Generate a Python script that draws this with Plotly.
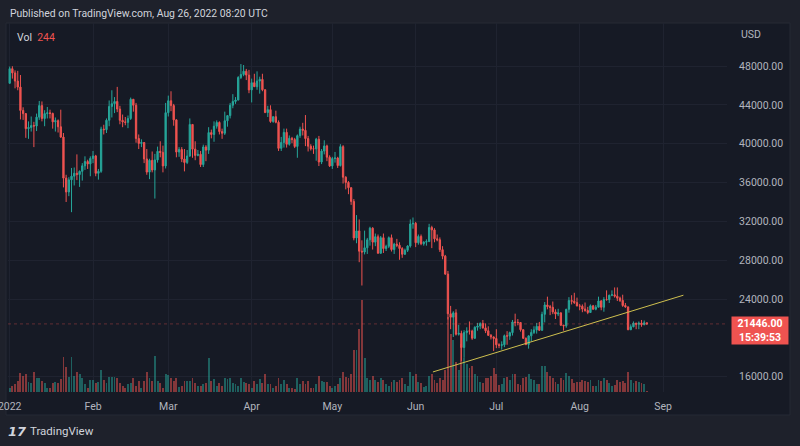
import pandas as pd
import plotly.graph_objects as go

# ---------------- data ----------------
dates = pd.date_range("2022-01-01", "2022-08-26", freq="D")

open_ = [
    # Jan
    46217, 47722, 47286, 46446, 45832, 43425, 43097, 41547, 41672, 41865, 41822, 42735, 43920, 42591, 43099, 43177,
    43113, 42250, 42375, 41744, 40680, 36457, 35030, 36276, 36654, 36954, 36822, 37154, 37718, 38166, 37917,
    # Feb
    38483, 38743, 36952, 37154, 41500, 41441, 42412, 43840, 44118, 44347, 43565, 42407, 42244, 42197, 42586, 44575,
    43961, 40538, 40030, 40122, 38431, 37075, 38286, 37296, 38332, 39214, 39105, 37710,
    # Mar
    43194, 44421, 43924, 42454, 39138, 39400, 38420, 38062, 38737, 41982, 39437, 38794, 38905, 37850, 39666, 39338,
    41143, 40951, 41801, 42190, 41247, 41077, 42358, 42893, 43960, 44348, 44500, 46820, 47128, 47465, 47062,
    # Apr
    45538, 46281, 45868, 46453, 46622, 45555, 43207, 43503, 42287, 42782, 42207, 39521, 40127, 41166, 39936, 40552,
    40424, 39716, 40827, 41502, 41374, 40527, 39740, 39478, 39469, 40458, 38117, 39241, 39773, 38609,
    # May
    37714, 38469, 38529, 37750, 39698, 36552, 36013, 35472, 34059, 30296, 31022, 28936, 28850, 29283, 30101, 31305,
    29863, 30425, 28715, 30319, 29201, 29432, 30323, 29098, 29655, 29542, 29202, 28620, 29027, 29468, 31734,
    # Jun
    31801, 29805, 30452, 29700, 29865, 29920, 31373, 31125, 30206, 30110, 29087, 28424, 26575, 22488, 22136, 22583,
    20382, 20471, 19017, 20553, 20720, 20712, 19970, 21100, 21231, 21496, 21036, 20737, 20274, 20104,
    # Jul
    19942, 19297, 19243, 19297, 20232, 20188, 20548, 21637, 21600, 21588, 20850, 19965, 19330, 20215, 20570, 20830,
    21195, 20785, 22430, 23396, 23225, 23150, 22680, 22460, 22580, 21310, 21250, 22950, 23850, 23775, 23640,
    # Aug
    23300, 23270, 22980, 22820, 22620, 23310, 22960, 23170, 23810, 23160, 23950, 23940, 24400, 24440, 24300, 24100,
    23860, 23340, 23200, 20850, 21150, 21530, 21400, 21530, 21370, 21560,
]
high = [
    47944, 47975, 47550, 47500, 47070, 43750, 43140, 42300, 42800, 42250, 43100, 44400, 44350, 43450, 43780, 43500,
    43200, 42700, 42500, 43500, 41100, 36800, 36550, 37500, 37550, 38900, 37250, 38000, 38700, 38350, 38700,
    39250, 38850, 37400, 41750, 41950, 42600, 44450, 45500, 44800, 45850, 43900, 43000, 42750, 42900, 44750, 44600,
    44200, 40950, 40450, 40150, 39450, 38450, 39200, 38950, 39700, 40250, 39800, 44200,
    44950, 45400, 44100, 42500, 39650, 39650, 39450, 39350, 42600, 42000, 40250, 39350, 39250, 39900, 39850, 41700,
    41450, 42300, 42400, 42300, 41550, 43300, 42900, 44200, 45100, 44800, 46950, 48200, 48100, 47700, 47600,
    46700, 47200, 47450, 46900, 47200, 45600, 43900, 43950, 42800, 43400, 42400, 40700, 41550, 41550, 40850, 40700,
    40600, 40950, 41750, 42150, 42950, 40800, 39950, 39800, 40600, 40800, 39450, 40350, 39900, 38800,
    38650, 39150, 38650, 39950, 39850, 36650, 36150, 35500, 34300, 32650, 32200, 30050, 31050, 30300, 31450, 31400,
    30750, 30650, 30500, 30750, 29600, 30450, 30650, 29800, 30200, 29850, 29350, 29200, 29550, 32200, 32400,
    31950, 30650, 30650, 29950, 30150, 31750, 31550, 31300, 30650, 30350, 29450, 28550, 26900, 23300, 22750, 22950,
    21350, 20750, 20800, 21100, 21700, 20850, 21200, 21550, 21600, 21850, 21500, 21200, 20400, 20150,
    20900, 19450, 19650, 20350, 20700, 20650, 21850, 22500, 21950, 21600, 20880, 20050, 20250, 20900, 21200, 21550,
    21650, 22700, 23700, 24250, 23400, 23750, 22950, 23000, 22650, 21350, 23000, 24200, 24400, 24650, 24150,
    23500, 23450, 23650, 23200, 23450, 23400, 23400, 24250, 23900, 24200, 24900, 24450, 24900, 25200, 25200, 24250,
    24450, 23600, 23200, 21400, 21700, 21550, 21700, 21850, 21800, 21600,
]
low = [
    46207, 46700, 45700, 45500, 42500, 42450, 40600, 40500, 41250, 39650, 41300, 42450, 42300, 41800, 42600, 42600,
    41550, 41250, 41150, 40600, 35500, 34000, 34600, 32950, 35700, 36250, 35550, 36200, 37300, 37400, 36650,
    38000, 36650, 36300, 37000, 40950, 41100, 41800, 42700, 43150, 43250, 42000, 41700, 41900, 41600, 42450, 43300,
    40100, 39450, 39650, 38000, 36800, 36350, 37050, 34350, 38050, 38600, 37050, 37450,
    42800, 43350, 41850, 38600, 38650, 38100, 37150, 37900, 38650, 38550, 38300, 38700, 37600, 37600, 38200, 38950,
    40550, 40200, 41550, 40950, 40500, 40900, 41750, 42600, 43650, 44100, 44450, 46650, 46950, 46550, 45200,
    44250, 45850, 45550, 45150, 45400, 43150, 42750, 42150, 42150, 42100, 39250, 39250, 39600, 39600, 39800, 40050,
    39550, 38550, 40600, 40850, 39750, 39200, 39300, 38950, 38250, 37700, 37900, 38900, 38200, 37600,
    37400, 38050, 37500, 37650, 35900, 35300, 34800, 33700, 30050, 29750, 27800, 25400, 28600, 28650, 29500, 29100,
    29450, 28700, 28700, 28750, 28950, 29250, 28900, 28650, 29350, 28050, 28250, 28550, 28850, 29300, 31250,
    29350, 29600, 29550, 29500, 29500, 29900, 29250, 29850, 29950, 28850, 28100, 26500, 21900, 20900, 20100, 20250,
    20250, 17620, 17950, 19650, 20350, 19800, 19900, 20750, 20900, 20950, 20500, 20200, 19850, 18650,
    18950, 18950, 18800, 19050, 19300, 19800, 20250, 21200, 21300, 20650, 19900, 19250, 18900, 19650, 20400, 20450,
    20750, 20750, 21600, 22950, 22350, 22450, 21950, 22250, 21250, 20750, 21050, 22600, 23450, 23500, 23250,
    22850, 22650, 22700, 22450, 22600, 22900, 22850, 23150, 22850, 22700, 23850, 23600, 24300, 24150, 23800, 23700,
    23200, 23100, 20800, 20800, 21100, 20900, 20900, 21150, 21300, 21350,
]
close = [
    47722, 47286, 46446, 45832, 43425, 43097, 41547, 41672, 41865, 41822, 42735, 43920, 42591, 43099, 43177, 43113,
    42250, 42375, 41744, 40680, 36457, 35030, 36276, 36654, 36954, 36822, 37154, 37718, 38166, 37917, 38483,
    38743, 36952, 37154, 41500, 41441, 42412, 43840, 44118, 44347, 43565, 42407, 42244, 42197, 42586, 44575, 43961,
    40538, 40030, 40122, 38431, 37075, 38286, 37296, 38332, 39214, 39105, 37710, 43194,
    44421, 43924, 42454, 39138, 39400, 38420, 38062, 38737, 41982, 39437, 38794, 38905, 37850, 39666, 39338, 41143,
    40951, 41801, 42190, 41247, 41077, 42358, 42893, 43960, 44348, 44500, 46820, 47128, 47465, 47062, 45538,
    46281, 45868, 46453, 46622, 45555, 43207, 43503, 42287, 42782, 42207, 39521, 40127, 41166, 39936, 40552, 40424,
    39716, 40827, 41502, 41374, 40527, 39740, 39478, 39469, 40458, 38117, 39241, 39773, 38609, 37714,
    38469, 38529, 37750, 39698, 36552, 36013, 35472, 34059, 30296, 31022, 28936, 28850, 29283, 30101, 31305, 29863,
    30425, 28715, 30319, 29201, 29432, 30323, 29098, 29655, 29542, 29202, 28620, 29027, 29468, 31734, 31801,
    29805, 30452, 29700, 29865, 29920, 31373, 31125, 30206, 30110, 29087, 28424, 26575, 22488, 22136, 22583, 20382,
    20471, 19017, 20553, 20720, 20712, 19970, 21100, 21231, 21496, 21036, 20737, 20274, 20104, 19942,
    19297, 19243, 19297, 20232, 20188, 20548, 21637, 21600, 21588, 20850, 19965, 19330, 20215, 20570, 20830, 21195,
    20785, 22430, 23396, 23225, 23150, 22680, 22460, 22580, 21310, 21250, 22950, 23850, 23775, 23640, 23300,
    23270, 22980, 22820, 22620, 23310, 22960, 23170, 23810, 23160, 23950, 23940, 24400, 24440, 24300, 24100, 23860,
    23340, 23200, 20850, 21150, 21530, 21400, 21530, 21370, 21560, 21446,
]
# volume, thousand BTC
volume = [
    1.0, 1.5, 2.0, 2.8, 4.8, 4.0, 4.5, 2.5, 2.3, 5.0, 3.5, 3.5, 2.8, 2.3, 1.0, 1.0, 2.3, 2.5, 2.3, 3.3, 8.8, 6.3,
    3.8, 8.8, 4.0, 5.0, 4.5, 3.5, 2.0, 1.0, 3.0,
    3.0, 2.3, 2.5, 5.5, 3.0, 2.3, 3.8, 3.8, 3.8, 3.5, 2.3, 1.5, 1.0, 2.0, 2.3, 3.5, 1.5, 2.8, 1.0, 2.8, 5.0, 3.5,
    2.8, 9.0, 2.8, 2.3, 1.0, 4.5,
    4.3, 3.5, 2.8, 3.5, 1.3, 1.5, 2.8, 2.8, 2.8, 3.5, 2.3, 1.5, 1.5, 2.0, 2.3, 8.5, 2.8, 3.3, 1.5, 2.3, 1.5, 3.5,
    3.3, 3.5, 2.3, 2.0, 1.5, 3.5, 2.5, 2.3, 2.0,
    1.0, 2.8, 2.0, 3.3, 2.3, 4.5, 2.0, 2.0, 1.0, 1.5, 3.5, 2.0, 3.0, 2.0, 1.0, 1.0, 0.8, 3.5, 2.0, 2.8, 2.0, 2.8,
    1.0, 1.0, 2.0, 4.0, 2.8, 2.5, 2.5, 1.5,
    1.0, 1.5, 2.0, 3.5, 5.0, 3.8, 3.5, 4.5, 10.5, 10.5, 15.8, 23.0, 8.5, 3.5, 3.0, 4.0, 3.0, 2.5, 3.5, 3.0, 2.0,
    1.5, 2.5, 3.0, 2.5, 3.0, 3.5, 2.0, 1.5, 5.0, 4.0,
    4.5, 2.5, 2.3, 1.3, 1.5, 4.0, 4.5, 3.0, 2.3, 3.5, 3.0, 5.5, 18.8, 14.5, 13.0, 7.5, 5.5, 12.0, 8.5, 7.0, 6.0,
    6.5, 4.5, 4.0, 2.5, 2.3, 3.5, 3.5, 4.0, 6.0,
    4.5, 1.8, 2.0, 3.5, 3.8, 3.0, 4.5, 4.5, 2.0, 1.8, 3.5, 3.8, 4.5, 3.3, 3.0, 2.0, 2.0, 6.5, 6.5, 5.0, 4.0, 3.5,
    2.5, 2.0, 3.5, 3.0, 4.8, 4.0, 3.3, 2.3, 2.5,
    2.5, 3.0, 2.8, 2.5, 3.0, 1.5, 1.5, 3.0, 2.8, 3.5, 3.0, 2.3, 1.5, 1.8, 3.0, 2.5, 2.8, 2.3, 5.0, 3.0, 2.3, 2.8,
    2.5, 2.3, 2.0, 0.244,
]
month_ticks = ["2022-01-01", "2022-02-01", "2022-03-01", "2022-04-01", "2022-05-01", "2022-06-01",
               "2022-07-01", "2022-08-01", "2022-09-01"]
month_labels = ["2022", "Feb", "Mar", "Apr", "May", "Jun", "Jul", "Aug", "Sep"]
price_ticks = [16000, 24000, 28000, 32000, 36000, 40000, 44000, 48000]
hidden_grid_price = 20000  # its label sits under the last-price tag
trend_dates = ["2022-06-07 10:00", "2022-09-08 14:00"]
trend_prices = [16500, 24400]
last_price = 21446.00
countdown = "15:39:53"
last_volume = 244

# ---------------- style ----------------
UP = "#26a69a"
DOWN = "#ef5350"
UP_VOL = "rgba(38,166,154,0.5)"
DOWN_VOL = "rgba(239,83,80,0.5)"
OUTER = "#1e212b"
PANEL = "#161a25"
GRID = "#1f2330"
TEXT = "#b2b5be"
FONT = "Roboto, 'DejaVu Sans', sans-serif"

vol_colors = [UP_VOL if c >= o else DOWN_VOL for o, c in zip(open_, close)]

fig = go.Figure()
fig.add_trace(go.Bar(x=dates, y=volume, marker=dict(color=vol_colors, line=dict(width=0)),
                     width=86400000 * 0.7, yaxis="y2", hoverinfo="skip"))
fig.add_trace(go.Candlestick(
    x=dates, open=open_, high=high, low=low, close=close,
    increasing=dict(line=dict(color=UP, width=1), fillcolor=UP),
    decreasing=dict(line=dict(color=DOWN, width=1), fillcolor=DOWN),
    whiskerwidth=0, hoverinfo="skip"))

# grid line whose tick label is hidden by the price tag
fig.add_shape(type="line", xref="paper", yref="y", x0=0, x1=1, y0=hidden_grid_price, y1=hidden_grid_price,
              line=dict(color=GRID, width=1), layer="between")
# trend line drawing
fig.add_shape(type="line", xref="x", yref="y", x0=trend_dates[0], y0=trend_prices[0],
              x1=trend_dates[1], y1=trend_prices[1], line=dict(color="#cfc04f", width=1))
# last price line
fig.add_shape(type="line", xref="paper", yref="y", x0=0, x1=1, y0=last_price, y1=last_price,
              line=dict(color="rgba(239,83,80,0.35)", width=1, dash="dot"))
# chart panel
fig.add_shape(type="rect", xref="paper", yref="paper", x0=-0.0028, x1=1.0876, y0=-0.0623, y1=1.0,
              fillcolor=PANEL, line=dict(color="#262a35", width=1), layer="below")

fig.update_layout(
    width=800, height=446,
    margin=dict(l=8, r=73, t=23, b=54, autoexpand=False),
    paper_bgcolor=OUTER, plot_bgcolor=PANEL,
    showlegend=False, hovermode=False, bargap=0,
    font=dict(family=FONT, color=TEXT, size=10.5),
    xaxis=dict(type="date", range=["2021-12-31 09:00", "2022-09-24 19:00"], automargin=False,
               tickvals=month_ticks, ticktext=month_labels, ticklabeloverflow="allow",
               showgrid=True, gridcolor=GRID, gridwidth=1, zeroline=False, showline=False,
               ticks="outside", ticklen=4, tickcolor="rgba(0,0,0,0)",
               tickfont=dict(size=10.5, color=TEXT), rangeslider=dict(visible=False)),
    yaxis=dict(side="right", range=[14435, 52427], tickvals=price_ticks, tickformat=".2f",
               automargin=False,
               showgrid=True, gridcolor=GRID, gridwidth=1, zeroline=False, showline=False,
               ticks="outside", ticklen=9, tickcolor="rgba(0,0,0,0)",
               tickfont=dict(size=10.5, color=TEXT)),
    yaxis2=dict(overlaying="y", range=[0, 92.25], visible=False),
)

ann = []
ann.append(dict(text="Published on TradingView.com, Aug 26, 2022 08:20 UTC", xref="paper", yref="paper",
                x=0.0, y=1.027, xanchor="left", yanchor="middle", showarrow=False,
                font=dict(size=10.4, color="#d1d4dc")))
ann.append(dict(text=f"Vol  <span style='color:{DOWN}'>{last_volume}</span>", xref="paper", yref="paper",
                x=0.0097, y=0.962, xanchor="left", yanchor="middle", showarrow=False,
                font=dict(size=10.5, color="#d1d4dc")))
ann.append(dict(text="USD", xref="paper", yref="paper", x=1.0167, y=0.9675, xanchor="left",
                yanchor="middle", showarrow=False, font=dict(size=10.5, color=TEXT)))
ann.append(dict(text=f"<b>{last_price:.2f}</b><br><b>{countdown}</b>", xref="paper", yref="paper",
                x=1.0056, y=0.206, xanchor="left", yanchor="top", showarrow=False,
                width=56, height=27, bgcolor=DOWN, borderpad=0, align="center",
                font=dict(size=10.5, color="#ffffff")))
ann.append(dict(text="<b><i>17</i></b>", xref="paper", yref="paper", x=-0.003, y=-0.1057,
                xanchor="left", yanchor="middle", showarrow=False,
                font=dict(size=13, color="#d1d4dc", family="'DejaVu Sans', sans-serif")))
ann.append(dict(text="TradingView", xref="paper", yref="paper", x=0.0278, y=-0.1057,
                xanchor="left", yanchor="middle", showarrow=False,
                font=dict(size=11.5, color="#d1d4dc")))
fig.update_layout(annotations=ann)

fig.write_html("out.html", config={"displayModeBar": False})
